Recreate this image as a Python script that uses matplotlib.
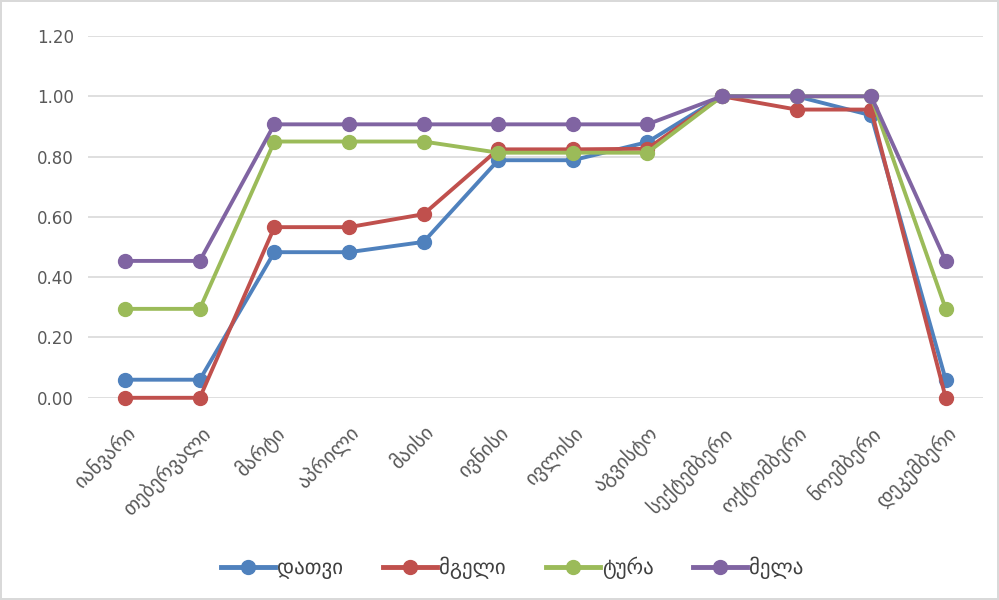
import matplotlib.pyplot as plt

months = ['იანვარი', 'თებერვალი', 'მარტი', 'აპრილი', 'მაისი', 'ივნისი',
          'ივლისი', 'აგვისტო', 'სექტემბერი', 'ოქტომბერი', 'ნოემბერი', 'დეკემბერი']
bear = [0.06, 0.06, 0.483, 0.483, 0.517, 0.788, 0.788, 0.848, 1.0, 1.0, 0.937, 0.06]
wolf = [0.0, 0.0, 0.566, 0.566, 0.609, 0.824, 0.824, 0.826, 1.0, 0.956, 0.956, 0.0]
jackal = [0.295, 0.295, 0.85, 0.85, 0.85, 0.813, 0.813, 0.813, 1.0, 1.0, 1.0, 0.295]
fox = [0.454, 0.454, 0.907, 0.907, 0.907, 0.907, 0.907, 0.907, 1.0, 1.0, 1.0, 0.454]
names = ['დათვი', 'მგელი', 'ტურა', 'მელა']
colors = ['#4F81BD', '#C0504D', '#9BBB59', '#8064A2']

plt.rcParams['font.family'] = ['DejaVu Sans']

fig = plt.figure(figsize=(9.99, 6.0), dpi=100)
fig.patch.set_edgecolor('#D9D9D9')
fig.patch.set_linewidth(1.5)
ax = fig.add_axes([0.088, 0.337, 0.896, 0.603])

x = list(range(len(months)))
for vals, name, c in zip([bear, wolf, jackal, fox], names, colors):
    ax.plot(x, vals, color=c, lw=2.8, marker='o', ms=10, label=name, zorder=3,
            clip_on=False)

ax.set_xlim(-0.5, len(months) - 0.5)
ax.set_ylim(0, 1.2)
ax.set_yticks([i * 0.2 for i in range(7)])
ax.set_yticklabels(['%.2f' % (i * 0.2) for i in range(7)])
ax.set_xticks(x)
ax.set_xticklabels(months, rotation=45, ha='right', rotation_mode='anchor')
ax.tick_params(axis='y', length=0, labelsize=12, colors='#595959', pad=10)
ax.tick_params(axis='x', length=0, labelsize=14.5, colors='#595959', pad=18)
ax.grid(axis='y', color='#D9D9D9', lw=1.2)
ax.set_axisbelow(True)
for s in ax.spines.values():
    s.set_visible(False)

leg = fig.legend(loc='center', bbox_to_anchor=(0.513, 0.053), ncol=4, frameon=False,
                 fontsize=15, handlelength=2.6, handletextpad=0.1, columnspacing=1.9,
                 labelcolor='#404040')
for h in leg.legend_handles:
    h.set_linewidth(3.5)

fig.savefig('out.png', dpi=100)
